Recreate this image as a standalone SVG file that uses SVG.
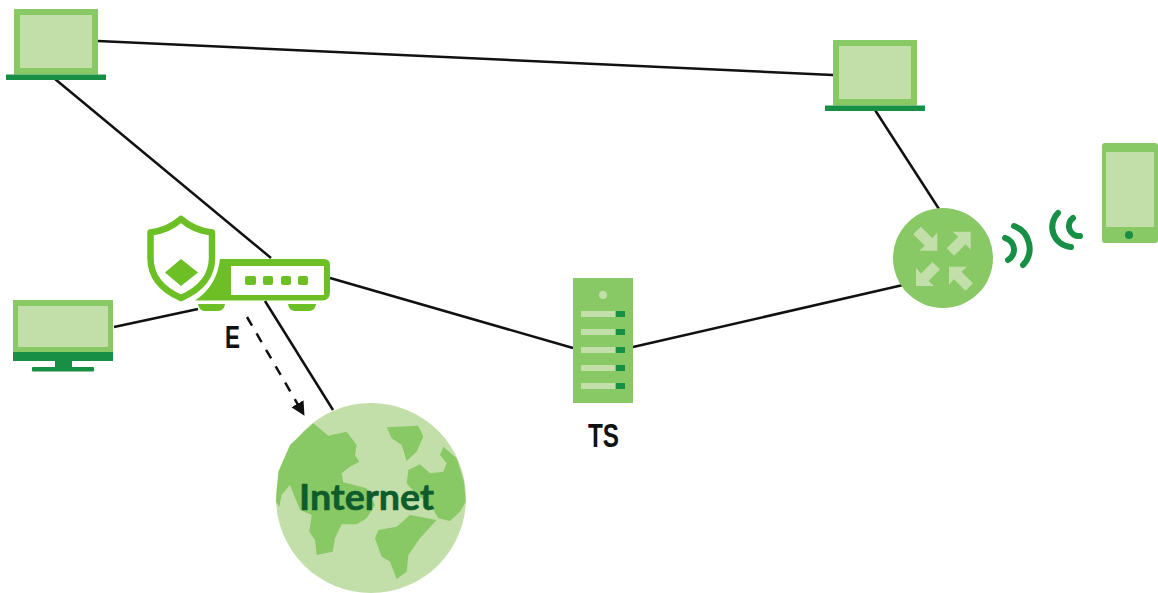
<svg xmlns="http://www.w3.org/2000/svg" xmlns:xlink="http://www.w3.org/1999/xlink" width="1158" height="593" viewBox="0 0 1158 593">
<style>
.mid{fill:#88c966}.lite{fill:#c3dfa9}.dark{fill:#178f45}.lime{fill:#6cbf25}
.link{stroke:#111;stroke-width:2.5;fill:none}
.wave{stroke:#178f45;stroke-width:6;fill:none;stroke-linecap:round}
.lbl{font-family:"Liberation Sans",Arial,sans-serif;font-weight:700;fill:#111}
</style>
<defs>
<marker id="tip" markerUnits="userSpaceOnUse" markerWidth="16" markerHeight="16" refX="13" refY="7" orient="auto"><path d="M0 0L14 7L0 14Z" fill="#111"/></marker>
<polygon id="rarrow" points="0,0 -18,0 -12.500,-5 -24,-16.500 -16.500,-24 -5,-12.500 0,-18" fill="#c3dfa9"/>
<g id="laptop"><rect class="mid" x="8" y="0" width="84" height="65.500"/><rect class="lite" x="14" y="6" width="72" height="53"/><rect class="dark" y="65.500" width="100" height="5.500"/></g>
</defs>
<rect width="1158" height="593" fill="#fff"/>
<g id="connectors">
<line class="link" x1="98" y1="41" x2="833" y2="75"/>
<line class="link" x1="55" y1="79" x2="271" y2="258"/>
<line class="link" x1="265" y1="301" x2="333" y2="410"/>
<line class="link" x1="114" y1="327" x2="198" y2="309"/>
<line class="link" x1="330" y1="278" x2="573" y2="348"/>
<line class="link" x1="633" y1="347" x2="903" y2="285"/>
<line class="link" x1="875" y1="110" x2="939" y2="209"/>
<line class="link" x1="247" y1="317" x2="304" y2="415" stroke-dasharray="10 9" marker-end="url(#tip)"/>
</g>
<g id="laptop-1"><use href="#laptop" x="6" y="9"/></g>
<g id="laptop-2"><use href="#laptop" x="825" y="40"/></g>
<g id="monitor">
<rect class="mid" x="13" y="300" width="100" height="52"/>
<rect class="lite" x="18" y="306" width="90" height="41"/>
<rect class="dark" x="13" y="352" width="100" height="9"/>
<rect class="dark" x="55" y="361" width="17" height="7"/>
<rect class="dark" x="32" y="367" width="62" height="4.500" rx="1"/>
</g>
<g id="firewall-e">
<path d="M181 219C172 227 163 231 150.500 232.500V258C150.500 279 165 291 181 298C197 291 212 279 212 258V232.500C199 231 190 227 181 219Z" fill="#fff" stroke="#6cbf25" stroke-width="6.500" stroke-linejoin="round"/>
<path class="lime" d="M181 259L198 272.500L181 286L165 272.500Z"/>
<path class="lime" d="M195 300.500Q217 286 220 259H324Q330 259 330 265V292Q330 300.500 322 300.500Z"/>
<rect x="231" y="266" width="93" height="29" fill="#fff"/>
<rect class="lime" x="245" y="276" width="11" height="9" rx="2"/>
<rect class="lime" x="263" y="276" width="10" height="9" rx="2"/>
<rect class="lime" x="281" y="276" width="10" height="9" rx="2"/>
<rect class="lime" x="298" y="276" width="10" height="9" rx="2"/>
<path class="lime" d="M198 304H225Q224 311 218 311H205Q199 311 198 304Z"/>
<path class="lime" d="M288 304H316Q315 311 309 311H295Q289 311 288 304Z"/>
<text class="lbl" x="225" y="348" font-size="31" textLength="15" lengthAdjust="spacingAndGlyphs">E</text>
</g>
<g id="internet">
<circle class="lite" cx="371" cy="498" r="95"/>
<g class="mid" transform="translate(260 395) scale(.3333)">
<polygon points="160,85 205,122 260,110 290,150 285,180 298,200 270,215 245,235 250,262 320,280 345,330 320,370 290,388 245,388 225,430 218,470 170,480 165,435 148,410 155,360 120,345 90,270 65,300 58,335 48,320 55,230 90,150"/>
<polygon points="380,97 475,92 490,125 470,170 440,198 425,150 395,130"/>
<polygon points="550,155 590,190 612,260 617,320 600,350 570,378 535,370 520,345 500,320 470,300 440,265 445,225 480,208 510,235 550,230 560,205 540,180"/>
<polygon points="450,360 530,375 480,430 445,480 440,530 410,552 390,500 365,485 345,430 355,405 410,395"/>
</g>
<text x="299" y="510" font-family="Lato,'Liberation Sans',sans-serif" font-weight="700" font-size="37" fill="#0e5c2c" stroke="#0e5c2c" stroke-width=".6" textLength="135" lengthAdjust="spacingAndGlyphs">Internet</text>
</g>
<g id="server-ts">
<rect class="mid" x="573" y="278" width="60" height="125"/>
<circle class="lite" cx="603" cy="295" r="4"/>
<g class="lite"><rect x="581" y="311" width="34" height="6"/><rect x="581" y="329" width="34" height="6"/><rect x="581" y="347" width="34" height="6"/><rect x="581" y="365" width="34" height="6"/><rect x="581" y="383" width="34" height="6"/></g>
<g class="dark"><rect x="616" y="311" width="9" height="6"/><rect x="616" y="329" width="9" height="6"/><rect x="616" y="347" width="9" height="6"/><rect x="616" y="365" width="9" height="6"/><rect x="616" y="383" width="9" height="6"/></g>
<text class="lbl" x="588" y="447" font-size="34" textLength="31" lengthAdjust="spacingAndGlyphs">TS</text>
</g>
<g id="router">
<circle class="mid" cx="943" cy="258" r="50"/>
<use href="#rarrow" transform="translate(937.300 250.700)"/>
<use href="#rarrow" transform="translate(970.700 231.700) rotate(-90)"/>
<use href="#rarrow" transform="translate(916 286) rotate(90)"/>
<use href="#rarrow" transform="translate(949 266.700) rotate(180)"/>
</g>
<g id="wifi">
<path class="wave" d="M1005 238A12 12 0 0 1 1008 260"/>
<path class="wave" d="M1014 226A24 24 0 0 1 1023 265"/>
<path class="wave" d="M1058 213A20 20 0 0 0 1071 247"/>
<path class="wave" d="M1073 218A10 10 0 0 0 1080 236"/>
</g>
<g id="phone">
<rect class="mid" x="1102" y="143" width="56" height="100" rx="3"/>
<rect class="lite" x="1106" y="152" width="48" height="75"/>
<circle class="dark" cx="1129" cy="235" r="4"/>
</g>
</svg>
